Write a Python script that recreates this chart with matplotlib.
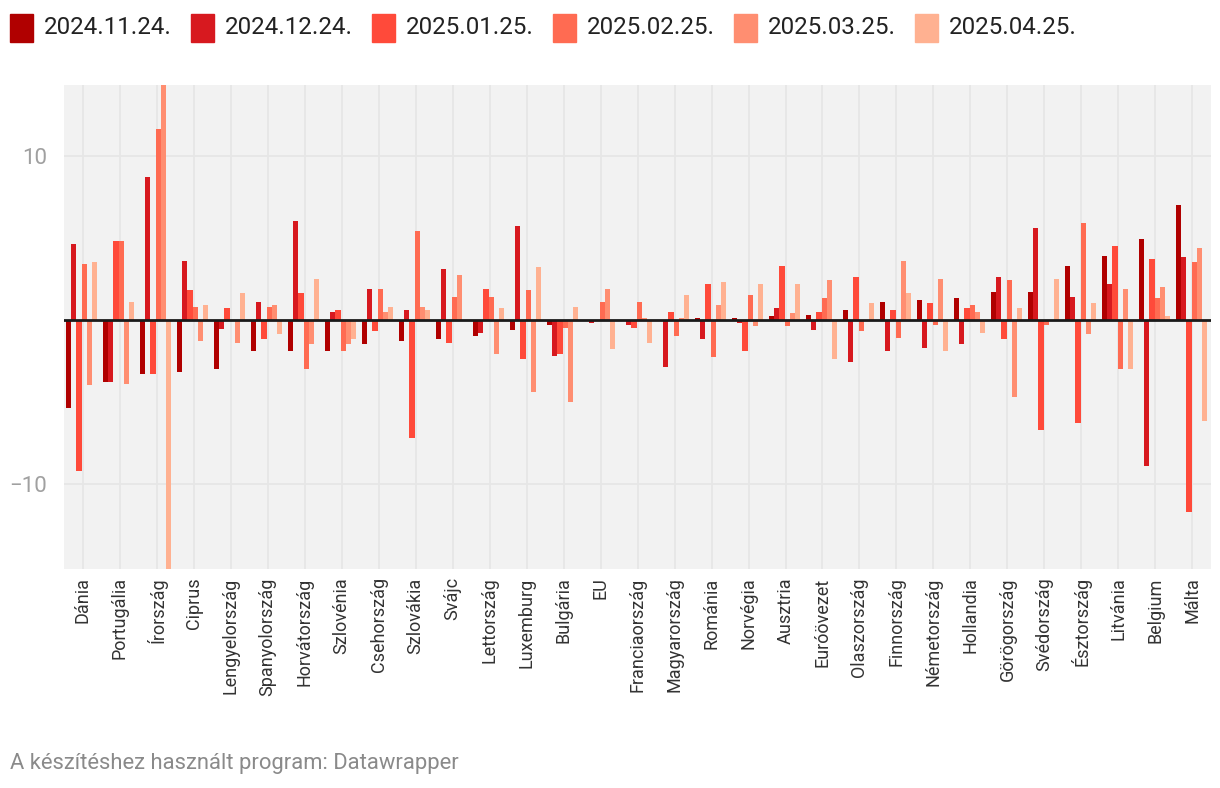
import numpy as np
import matplotlib.pyplot as plt
from matplotlib.patches import Rectangle

plt.rcParams['font.family'] = ['Roboto', 'DejaVu Sans']

countries = ['Dánia', 'Portugália', 'Írország', 'Ciprus', 'Lengyelország', 'Spanyolország',
             'Horvátország', 'Szlovénia', 'Csehország', 'Szlovákia', 'Svájc', 'Lettország',
             'Luxemburg', 'Bulgária', 'EU', 'Franciaország', 'Magyarország', 'Románia',
             'Norvégia', 'Ausztria', 'Euróövezet', 'Olaszország', 'Finnország', 'Németország',
             'Hollandia', 'Görögország', 'Svédország', 'Észtország', 'Litvánia', 'Belgium', 'Málta']

series_names = ['2024.11.24.', '2024.12.24.', '2025.01.25.', '2025.02.25.', '2025.03.25.', '2025.04.25.']
colors = ['#b00000', '#d7191f', '#ff4a3a', '#ff6b52', '#ff8e71', '#ffb191']

nov24 = [-5.39, -3.80, -3.31, -3.19, -3.01, -1.91, -1.91, -1.91, -1.48, -1.30, -1.18, -1.00,
         -0.63, -0.33, 0.0, 0.0, 0.0, 0.10, 0.10, 0.22, 0.28, 0.59, 1.08, 1.20,
         1.32, 1.69, 1.69, 3.27, 3.88, 4.92, 6.99]
dec24 = [4.61, -3.80, 8.70, 3.58, -0.60, 1.08, 6.02, 0.47, 1.87, 0.59, 3.09, -0.81,
         5.71, -2.22, -0.20, -0.33, -2.89, -1.18, -0.20, 0.71, -0.63, -2.58, -1.91, -1.73,
         -1.48, 2.60, 5.59, 1.38, 2.17, -8.92, 3.82]
jan25 = [-9.21, 4.80, -3.31, 1.81, 0.71, -1.18, 1.63, 0.59, -0.69, -7.22, -1.42, 1.87,
         -2.40, -2.09, 0.0, -0.51, 0.47, 2.17, -1.91, 3.27, 0.47, 2.60, 0.59, 1.02,
         0.71, -1.18, -6.73, -6.30, 4.49, 3.70, -11.73]
feb25 = [3.39, 4.80, 11.63, 0.77, 0.0, 0.77, -3.01, -1.91, 1.87, 5.41, 1.38, 1.38,
         1.81, -0.51, 1.08, 1.08, -1.00, -2.28, 1.50, -0.39, 1.32, -0.69, -1.12, -0.33,
         0.89, 2.42, -0.33, 5.89, -3.01, 1.32, 3.52]
mar25 = [-3.98, -3.92, 15.0, -1.30, -1.42, 0.89, -1.48, -1.48, 0.47, 0.77, 2.72, -2.09,
         -4.41, -5.02, 1.87, 0.10, 0.10, 0.89, -0.39, 0.41, 2.42, 0.0, 3.58, 2.48,
         0.47, -4.72, 0.0, -0.87, 1.87, 1.99, 4.37]
apr25 = [3.52, 1.08, -16.0, 0.89, 1.63, -0.87, 2.48, -1.18, 0.77, 0.59, 0.0, 0.71,
         3.21, 0.77, -1.79, -1.42, 1.50, 2.30, 2.17, 2.17, -2.40, 1.02, 1.63, -1.91,
         -0.81, 0.71, 2.48, 1.02, -3.01, 0.22, -6.18]

values = [nov24, dec24, jan25, feb25, mar25, apr25]

fig = plt.figure(figsize=(12.2, 7.88), dpi=100)
ax = fig.add_axes([0.0525, 0.2779, 0.9401, 0.6142])
ax.set_facecolor('#f2f2f2')

x = np.arange(len(countries))
w = 0.14
start = -0.446
for j, vals in enumerate(values):
    ax.bar(x + start + w * (j + 0.5), vals, width=w, color=colors[j], linewidth=0, zorder=2)

ax.set_xlim(-0.5, len(countries) - 0.5)
ax.set_ylim(-15.2, 14.3)
ax.set_xticks(x)
ax.set_xticklabels(countries, rotation=90, fontsize=13, color='#333333')
ax.set_yticks([-10, 10])
ax.set_yticklabels(['\u221210', '10'], fontsize=16, color='#a0a0a0')
ax.tick_params(axis='both', length=0)
ax.tick_params(axis='y', pad=12)
ax.tick_params(axis='x', pad=6)
ax.grid(True, color='#e6e6e6', linewidth=1.3, zorder=0)
ax.axhline(0, color='#1a1a1a', linewidth=2, zorder=3)
for s in ax.spines.values():
    s.set_visible(False)

# legend across the top
for j, name in enumerate(series_names):
    x0 = (10 + 181 * j) / 1220
    fig.patches.append(Rectangle((x0, 1 - 42 / 788), 23 / 1220, 28 / 788,
                                 transform=fig.transFigure, color=colors[j]))
    fig.text(x0 + 34 / 1220, 1 - 28 / 788, name, fontsize=17.4, color='#222222', va='center')

fig.text(10 / 1220, 1 - 763 / 788, 'A készítéshez használt program: Datawrapper',
         fontsize=15.8, color='#8a8a8a', va='center')

fig.savefig('out.png', dpi=100)
